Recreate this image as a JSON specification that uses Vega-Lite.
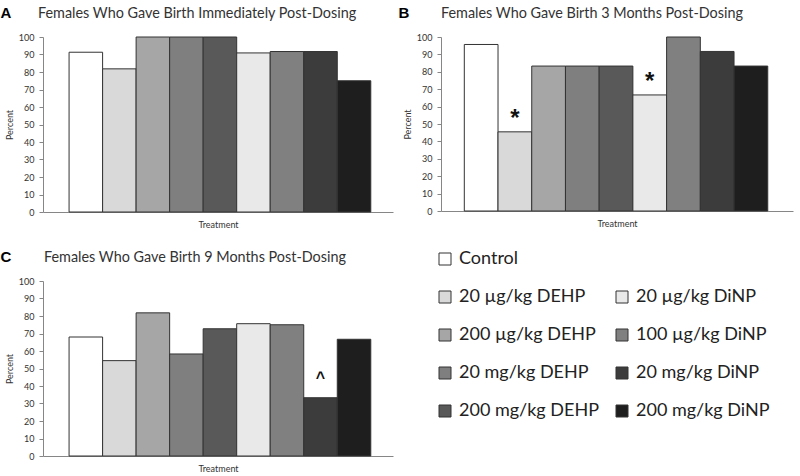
{
  "$schema": "https://vega.github.io/schema/vega-lite/v6.json",
  "background": "white",
  "padding": {"left": 0, "top": 5, "right": 4, "bottom": 4},
  "data": {"name": "births"},
  "datasets": {
    "births": [
      {"panel": "A", "treatment": "Control", "percent": 91.3, "sig": ""},
      {"panel": "A", "treatment": "20 µg/kg DEHP", "percent": 81.8, "sig": ""},
      {"panel": "A", "treatment": "200 µg/kg DEHP", "percent": 100, "sig": ""},
      {"panel": "A", "treatment": "20 mg/kg DEHP", "percent": 100, "sig": ""},
      {"panel": "A", "treatment": "200 mg/kg DEHP", "percent": 100, "sig": ""},
      {"panel": "A", "treatment": "20 µg/kg DiNP", "percent": 90.9, "sig": ""},
      {"panel": "A", "treatment": "100 µg/kg DiNP", "percent": 91.7, "sig": ""},
      {"panel": "A", "treatment": "20 mg/kg DiNP", "percent": 91.7, "sig": ""},
      {"panel": "A", "treatment": "200 mg/kg DiNP", "percent": 75, "sig": ""},
      {"panel": "B", "treatment": "Control", "percent": 95.7, "sig": ""},
      {"panel": "B", "treatment": "20 µg/kg DEHP", "percent": 45.5, "sig": "*"},
      {"panel": "B", "treatment": "200 µg/kg DEHP", "percent": 83.3, "sig": ""},
      {"panel": "B", "treatment": "20 mg/kg DEHP", "percent": 83.3, "sig": ""},
      {"panel": "B", "treatment": "200 mg/kg DEHP", "percent": 83.3, "sig": ""},
      {"panel": "B", "treatment": "20 µg/kg DiNP", "percent": 66.7, "sig": "*"},
      {"panel": "B", "treatment": "100 µg/kg DiNP", "percent": 100, "sig": ""},
      {"panel": "B", "treatment": "20 mg/kg DiNP", "percent": 91.7, "sig": ""},
      {"panel": "B", "treatment": "200 mg/kg DiNP", "percent": 83.3, "sig": ""},
      {"panel": "C", "treatment": "Control", "percent": 68.0, "sig": ""},
      {"panel": "C", "treatment": "20 µg/kg DEHP", "percent": 54.5, "sig": ""},
      {"panel": "C", "treatment": "200 µg/kg DEHP", "percent": 81.8, "sig": ""},
      {"panel": "C", "treatment": "20 mg/kg DEHP", "percent": 58.3, "sig": ""},
      {"panel": "C", "treatment": "200 mg/kg DEHP", "percent": 72.7, "sig": ""},
      {"panel": "C", "treatment": "20 µg/kg DiNP", "percent": 75.6, "sig": ""},
      {"panel": "C", "treatment": "100 µg/kg DiNP", "percent": 75.0, "sig": ""},
      {"panel": "C", "treatment": "20 mg/kg DiNP", "percent": 33.3, "sig": "^"},
      {"panel": "C", "treatment": "200 mg/kg DiNP", "percent": 66.7, "sig": ""}
    ]
  },
  "config": {
    "font": "Lato",
    "view": {"stroke": null},
    "title": {"font": "Lato", "fontSize": 14.4, "fontWeight": "normal", "color": "#333333", "anchor": "start", "frame": "group", "offset": 12},
    "axis": {"grid": false, "domainColor": "#868686", "tickColor": "#868686", "labelFont": "Lato", "labelFontSize": 9, "labelColor": "#333333", "titleFont": "Lato", "titleFontSize": 9, "titleFontWeight": "normal", "titleColor": "#333333"},
    "legend": {
      "orient": "none", "legendX": 393, "legendY": 213,
      "columns": 2, "columnPadding": 14, "rowPadding": 20,
      "symbolType": "square", "symbolSize": 144, "symbolStrokeColor": "#333333", "symbolStrokeWidth": 1, "symbolOpacity": 1,
      "labelFont": "Lato", "labelFontSize": 18, "labelColor": "#222222", "labelOffset": 5, "labelLimit": 300
    }
  },
  "columns": 2,
  "spacing": {"column": 5, "row": 20},
  "concat": [
    {
      "title": {"text": "A", "orient": "left", "angle": 0, "anchor": "end", "frame": "bounds", "align": "left", "baseline": "top", "offset": -6, "fontWeight": "bold", "fontSize": 15, "color": "#000000", "font": "Liberation Sans"},
      "vconcat": [
        {
          "title": {"text": "Females Who Gave Birth Immediately Post-Dosing", "dx": -5},
          "width": 350, "height": 175,
          "transform": [{"filter": "datum.panel === 'A'"}],
          "layer": [
            {
              "mark": {"type": "bar", "stroke": "#333333", "strokeWidth": 1},
              "encoding": {
                "x": {"field": "treatment", "type": "nominal", "sort": null, "scale": {"paddingInner": 0, "paddingOuter": 0.72, "align": 0.54}, "axis": {"labels": false, "ticks": false, "title": "Treatment", "titlePadding": 8}},
                "y": {"field": "percent", "type": "quantitative", "scale": {"domain": [0, 100], "nice": false}, "axis": {"values": [0,10,20,30,40,50,60,70,80,90,100], "title": "Percent", "tickSize": 4, "labelPadding": 5, "titlePadding": 4}},
                "color": {"field": "treatment", "type": "nominal", "scale": {"domain": ["Control", "20 µg/kg DEHP", "200 µg/kg DEHP", "20 mg/kg DEHP", "200 mg/kg DEHP", " ", "20 µg/kg DiNP", "100 µg/kg DiNP", "20 mg/kg DiNP", "200 mg/kg DiNP"], "range": ["#ffffff", "#d9d9d9", "#a6a6a6", "#7f7f7f", "#595959", "transparent", "#e9e9e9", "#808080", "#3c3c3c", "#1e1e1e"]},
                  "legend": {"title": null, "values": ["Control", "20 µg/kg DEHP", "200 µg/kg DEHP", "20 mg/kg DEHP", "200 mg/kg DEHP", " ", "20 µg/kg DiNP", "100 µg/kg DiNP", "20 mg/kg DiNP", "200 mg/kg DiNP"],
                    "encode": {"symbols": {"update": {"strokeOpacity": {"signal": "datum.value === ' ' ? 0 : 1"}}}}}}
              }
            }
          ]
        }
      ]
    },
    {
      "title": {"text": "B", "orient": "left", "angle": 0, "anchor": "end", "frame": "bounds", "align": "left", "baseline": "top", "offset": -6, "fontWeight": "bold", "fontSize": 15, "color": "#000000", "font": "Liberation Sans"},
      "vconcat": [
        {
          "title": {"text": "Females Who Gave Birth 3 Months Post-Dosing", "dx": 0},
          "width": 352, "height": 174,
          "transform": [{"filter": "datum.panel === 'B'"}],
          "encoding": {
            "x": {"field": "treatment", "type": "nominal", "sort": null, "scale": {"paddingInner": 0, "paddingOuter": 0.72, "align": 0.48}, "axis": {"labels": false, "ticks": false, "title": "Treatment", "titlePadding": 8}},
            "y": {"field": "percent", "type": "quantitative", "scale": {"domain": [0, 100], "nice": false}, "axis": {"values": [0,10,20,30,40,50,60,70,80,90,100], "title": "Percent", "tickSize": 4, "labelPadding": 5, "titlePadding": 4}}
          },
          "layer": [
            {
              "mark": {"type": "bar", "stroke": "#333333", "strokeWidth": 1},
              "encoding": {"color": {"field": "treatment", "type": "nominal"}}
            },
            {
              "transform": [{"filter": "datum.sig !== ''"}],
              "mark": {"type": "text", "dy": -13, "fontSize": 24, "fontWeight": "bold", "color": "#111111", "baseline": "middle", "font": "Liberation Sans"},
              "encoding": {"text": {"field": "sig"}}
            }
          ]
        }
      ]
    },
    {
      "title": {"text": "C", "orient": "left", "angle": 0, "anchor": "end", "frame": "bounds", "align": "left", "baseline": "top", "offset": -6, "fontWeight": "bold", "fontSize": 15, "color": "#000000", "font": "Liberation Sans"},
      "vconcat": [
        {
          "title": {"text": "Females Who Gave Birth 9 Months Post-Dosing", "dx": 1},
          "width": 350, "height": 175,
          "transform": [{"filter": "datum.panel === 'C'"}],
          "encoding": {
            "x": {"field": "treatment", "type": "nominal", "sort": null, "scale": {"paddingInner": 0, "paddingOuter": 0.72, "align": 0.54}, "axis": {"labels": false, "ticks": false, "title": "Treatment", "titlePadding": 8}},
            "y": {"field": "percent", "type": "quantitative", "scale": {"domain": [0, 100], "nice": false}, "axis": {"values": [0,10,20,30,40,50,60,70,80,90,100], "title": "Percent", "tickSize": 4, "labelPadding": 5, "titlePadding": 4}}
          },
          "layer": [
            {
              "mark": {"type": "bar", "stroke": "#333333", "strokeWidth": 1},
              "encoding": {"color": {"field": "treatment", "type": "nominal"}}
            },
            {
              "transform": [{"filter": "datum.sig !== ''"}],
              "mark": {"type": "text", "dy": -20, "fontSize": 16, "fontWeight": "bold", "color": "#111111", "baseline": "middle", "font": "Liberation Sans"},
              "encoding": {"text": {"field": "sig"}}
            }
          ]
        }
      ]
    }
  ]
}
